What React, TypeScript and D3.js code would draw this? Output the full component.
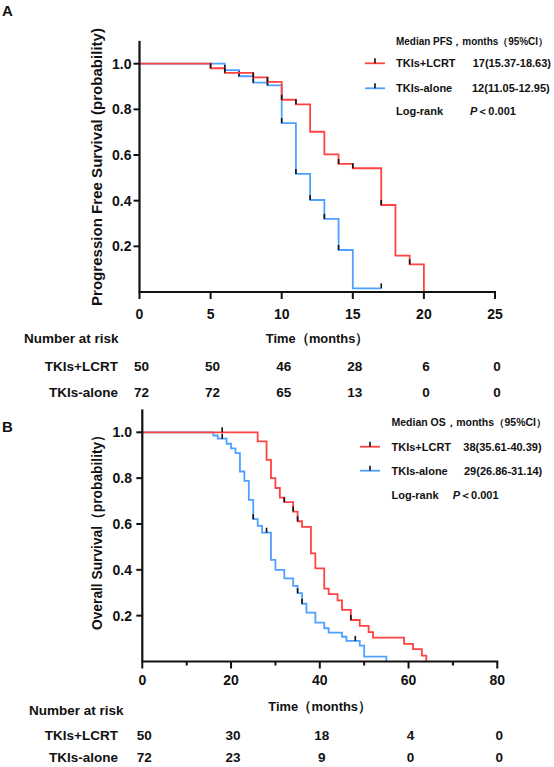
import React from "react";
import * as d3 from "d3";

// ---------- Panel A : PFS ----------
const pfsLcrtTimes = [0, 5, 6, 8, 9, 10, 11, 12, 13, 14, 15, 17, 18, 19, 20];
const pfsLcrtSurv = [1, 0.98, 0.96, 0.94, 0.92, 0.842, 0.822, 0.702, 0.603, 0.561, 0.542, 0.381, 0.159, 0.121, 0];
const pfsLcrtCensor = [5, 6, 8, 9, 10, 11, 14, 15, 17, 19];

const pfsAloneTimes = [0, 6, 7, 8, 9, 10, 11, 12, 13, 14, 15, 17];
const pfsAloneSurv = [1, 0.972, 0.945, 0.917, 0.905, 0.74, 0.517, 0.403, 0.32, 0.184, 0.016, 0.016];
const pfsAloneCensor = [6, 7, 8, 9, 10, 11, 12, 13, 14, 17];

const pfsXTicks = [0, 5, 10, 15, 20, 25];
const pfsRiskLcrt = [50, 50, 46, 28, 6, 0];
const pfsRiskAlone = [72, 72, 65, 13, 0, 0];

// ---------- Panel B : OS ----------
const osLcrtTimes = [0, 26, 28, 29, 30, 31, 32, 34, 35, 36, 38, 39, 41, 42, 44, 45, 47, 49, 51, 52, 59, 61, 63, 64];
const osLcrtSurv = [1, 0.96, 0.88, 0.8, 0.757, 0.715, 0.695, 0.654, 0.612, 0.587, 0.472, 0.406, 0.318, 0.294, 0.267, 0.225, 0.181, 0.155, 0.128, 0.104, 0.077, 0.054, 0.026, 0];
const osLcrtCensor = [18, 32, 34, 35, 47];

const osAloneTimes = [0, 16, 17, 19, 20, 21, 22, 23, 24, 25, 26, 27, 29, 30, 32, 34, 35, 36, 37, 39, 41, 42, 45, 46, 49, 50, 55];
const osAloneSurv = [1, 0.986, 0.972, 0.95, 0.93, 0.909, 0.829, 0.788, 0.705, 0.621, 0.592, 0.562, 0.443, 0.4, 0.363, 0.33, 0.298, 0.252, 0.213, 0.17, 0.145, 0.126, 0.108, 0.09, 0.069, 0.021, 0];
const osAloneCensor = [18, 25, 28, 35, 36, 48];

const osXMajor = [0, 20, 40, 60, 80];
const osXMinor = [10, 30, 50, 70];
const osRiskLcrt = [50, 30, 18, 4, 0];
const osRiskAlone = [72, 23, 9, 0, 0];

const yTicks = [0.2, 0.4, 0.6, 0.8, 1.0];

const RED = "#ff4242";
const BLUE = "#4ea1ff";
const FONT = "'Liberation Sans', Arial, Helvetica, sans-serif";

type Pt = [number, number];
const zip = (t: number[], s: number[]): Pt[] => t.map((v, i) => [v, s[i]]);
const levelAt = (t: number[], s: number[], x: number) => {
  let v = s[0];
  for (let i = 0; i < t.length; i++) if (t[i] <= x) v = s[i];
  return v;
};

function Curve({ xs, ys, times, surv, censor, color }: any) {
  const line = d3
    .line<Pt>()
    .x((d) => xs(d[0]))
    .y((d) => ys(d[1]))
    .curve(d3.curveStepAfter);
  return (
    <g>
      <path d={line(zip(times, surv)) || ""} fill="none" stroke={color} strokeWidth={1.8} />
      {censor.map((c: number, i: number) => {
        const y = ys(levelAt(times, surv, c));
        return <line key={i} x1={xs(c)} x2={xs(c)} y1={y} y2={y - 5} stroke="#111" strokeWidth={1.6} />;
      })}
    </g>
  );
}

function Panel(props: any) {
  const {
    xs, ys, xMajor, xMinor, xLabelY, title, titleY, titleLen, letter, letterY,
    yLabelX, timeY, narY, narX, rowY1, rowY2, riskA, riskB, curves, legend,
  } = props;
  const x0 = xs.range()[0];
  const x1 = xs.range()[1];
  const y0 = ys(0);
  const yTop = ys(1.1);
  const tf = { fontFamily: FONT, fontWeight: "bold", fill: "#111" } as any;
  return (
    <g>
      <text x={2} y={letterY} fontSize={15} {...tf}>{letter}</text>
      {curves.map((c: any, i: number) => (
        <Curve key={i} xs={xs} ys={ys} {...c} />
      ))}
      {/* axes */}
      <line x1={x0} x2={x0} y1={y0} y2={yTop} stroke="#111" strokeWidth={2.2} />
      <line x1={x0 - 1} x2={x1 + 1} y1={y0} y2={y0} stroke="#111" strokeWidth={2.2} />
      {yTicks.map((v) => (
        <g key={v}>
          <line x1={x0 - 6} x2={x0} y1={ys(v)} y2={ys(v)} stroke="#111" strokeWidth={2} />
          <text x={yLabelX} y={ys(v)} textAnchor="end" dominantBaseline="central" fontSize={14} {...tf}>
            {v.toFixed(1)}
          </text>
        </g>
      ))}
      {xMajor.map((v: number) => (
        <g key={v}>
          <line x1={xs(v)} x2={xs(v)} y1={y0} y2={y0 + 7} stroke="#111" strokeWidth={2} />
          <text x={xs(v)} y={xLabelY} textAnchor="middle" dominantBaseline="central" fontSize={14} {...tf}>
            {v}
          </text>
        </g>
      ))}
      {xMinor.map((v: number) => (
        <line key={v} x1={xs(v)} x2={xs(v)} y1={y0} y2={y0 + 4} stroke="#111" strokeWidth={2} />
      ))}
      <text
        transform={`translate(96.5,${titleY}) rotate(-90)`}
        textAnchor="middle"
        dominantBaseline="central"
        fontSize={15}
        textLength={titleLen}
        lengthAdjust="spacingAndGlyphs"
        {...tf}
      >
        {title}
      </text>
      <text x={(x0 + x1) / 2} y={timeY} textAnchor="middle" dominantBaseline="central" fontSize={13.5} textLength={103} lengthAdjust="spacingAndGlyphs" {...tf}>
        Time（months）
      </text>
      <text x={narX} y={narY} dominantBaseline="central" fontSize={13.5} {...tf}>
        Number at risk
      </text>
      <text x={118} y={rowY1} textAnchor="end" dominantBaseline="central" fontSize={13.5} {...tf}>
        TKIs+LCRT
      </text>
      <text x={118} y={rowY2} textAnchor="end" dominantBaseline="central" fontSize={13.5} {...tf}>
        TKIs-alone
      </text>
      {xMajor.map((v: number, i: number) => (
        <g key={"r" + v}>
          <text x={xs(v) + 2} y={rowY1} textAnchor="middle" dominantBaseline="central" fontSize={13.5} {...tf}>
            {riskA[i]}
          </text>
          <text x={xs(v) + 2} y={rowY2} textAnchor="middle" dominantBaseline="central" fontSize={13.5} {...tf}>
            {riskB[i]}
          </text>
        </g>
      ))}
      {/* legend */}
      <g>
        <text x={legend.tx} y={legend.y0} dominantBaseline="central" fontSize={10} textLength={legend.hLen} lengthAdjust="spacingAndGlyphs" {...tf}>
          {legend.header}
        </text>
        {[
          { c: RED, name: "TKIs+LCRT", val: legend.v1, y: legend.y1, vx: legend.vx1 },
          { c: BLUE, name: "TKIs-alone", val: legend.v2, y: legend.y2, vx: legend.vx2 },
        ].map((r) => (
          <g key={r.name}>
            <line x1={legend.lx} x2={legend.lx + 20} y1={r.y} y2={r.y} stroke={r.c} strokeWidth={1.8} />
            <line x1={legend.lx + 10} x2={legend.lx + 10} y1={r.y} y2={r.y - 5} stroke="#111" strokeWidth={1.6} />
            <text x={legend.tx} y={r.y} dominantBaseline="central" fontSize={11} {...tf}>{r.name}</text>
            <text x={r.vx} y={r.y} dominantBaseline="central" fontSize={11} {...tf}>{r.val}</text>
          </g>
        ))}
        <text x={legend.tx} y={legend.y3} dominantBaseline="central" fontSize={11} {...tf}>Log-rank</text>
        <text x={legend.px} y={legend.y3} dominantBaseline="central" fontSize={11} {...tf}>
          <tspan fontStyle="italic">P</tspan>＜0.001
        </text>
      </g>
    </g>
  );
}

export default function App() {
  const xsA = d3.scaleLinear().domain([0, 25]).range([139.5, 495]);
  const ysA = d3.scaleLinear().domain([0, 1]).range([292, 63.7]);
  const xsB = d3.scaleLinear().domain([0, 80]).range([142.3, 497.3]);
  const ysB = d3.scaleLinear().domain([0, 1]).range([661.5, 432.3]);
  return (
    <svg
      width={554}
      height={767}
      viewBox="0 0 554 767"
      style={{ position: "absolute", left: 0, top: 0, background: "#fff" }}
    >
      <rect width={554} height={767} fill="#fff" />
      <Panel
        xs={xsA}
        ys={ysA}
        xMajor={pfsXTicks}
        xMinor={[]}
        xLabelY={313.5}
        title="Progression Free Survival (probability)"
        titleY={167}
        titleLen={278}
        letter="A"
        letterY={16}
        yLabelX={131.5}
        timeY={338.5}
        narY={338.5}
        narX={24}
        rowY1={366}
        rowY2={392}
        riskA={pfsRiskLcrt}
        riskB={pfsRiskAlone}
        curves={[
          { times: pfsAloneTimes, surv: pfsAloneSurv, censor: pfsAloneCensor, color: BLUE },
          { times: pfsLcrtTimes, surv: pfsLcrtSurv, censor: pfsLcrtCensor, color: RED },
        ]}
        legend={{
          header: "Median PFS，months（95%CI）", hLen: 152,
          tx: 396, lx: 365, y0: 41.7, y1: 63.3, y2: 88.3, y3: 111,
          v1: "17(15.37-18.63)", v2: "12(11.05-12.95)", vx1: 472.7, vx2: 472, px: 470,
        }}
      />
      <Panel
        xs={xsB}
        ys={ysB}
        xMajor={osXMajor}
        xMinor={osXMinor}
        xLabelY={679.5}
        title="Overall Survival（probability）"
        titleY={529}
        titleLen={202}
        letter="B"
        letterY={431.7}
        yLabelX={132}
        timeY={706}
        narY={710.7}
        narX={29}
        rowY1={735.5}
        rowY2={757.5}
        riskA={osRiskLcrt}
        riskB={osRiskAlone}
        curves={[
          { times: osAloneTimes, surv: osAloneSurv, censor: osAloneCensor, color: BLUE },
          { times: osLcrtTimes, surv: osLcrtSurv, censor: osLcrtCensor, color: RED },
        ]}
        legend={{
          header: "Median OS，months（95%CI）", hLen: 155,
          tx: 391.5, lx: 360, y0: 422.7, y1: 446.7, y2: 470.7, y3: 495,
          v1: "38(35.61-40.39)", v2: "29(26.86-31.14)", vx1: 463.3, vx2: 464, px: 452.7,
        }}
      />
    </svg>
  );
}
